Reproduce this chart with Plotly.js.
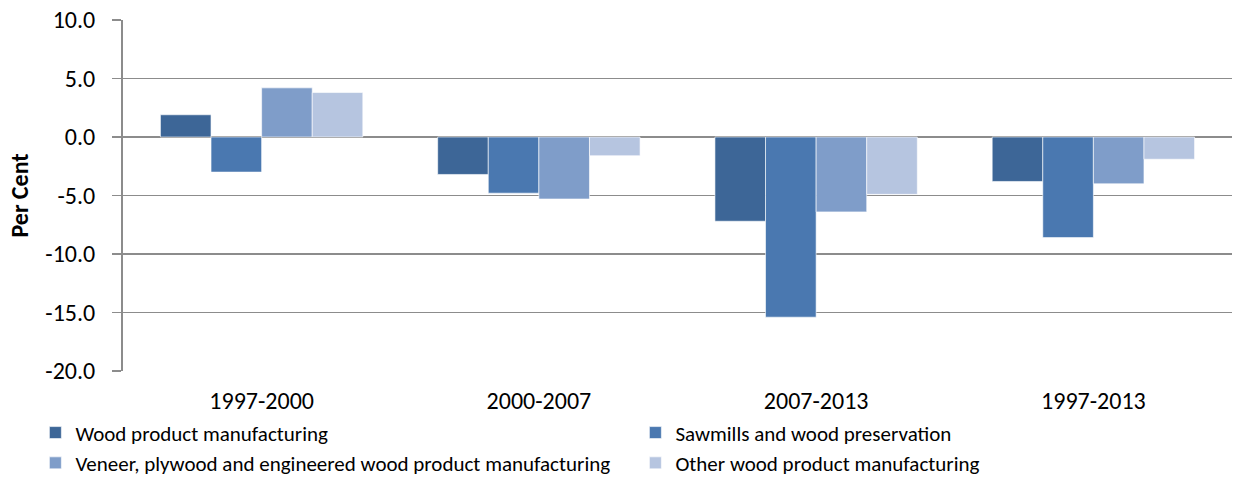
<!DOCTYPE html>
<html>
<head>
<meta charset="utf-8">
<script src="https://cdn.plot.ly/plotly-3.0.1.min.js"></script>
<style>html,body{margin:0;padding:0;background:#fff;}#chart{width:1238px;height:477px;}</style>
</head>
<body>
<div id="chart"></div>
<script>
const categories = ["1997-2000", "2000-2007", "2007-2013", "1997-2013"];
const seriesNames = [
  "Wood product manufacturing",
  "Sawmills and wood preservation",
  "Veneer, plywood and engineered wood product manufacturing",
  "Other wood product manufacturing"
];
const woodProduct = [1.9, -3.2, -7.2, -3.8];
const sawmills = [-3.0, -4.8, -15.4, -8.6];
const veneer = [4.2, -5.3, -6.4, -4.0];
const otherWood = [3.8, -1.6, -4.9, -1.9];
const yTickVals = [-20, -15, -10, -5, 0, 5, 10];
const yTickText = ["-20.0", "-15.0", "-10.0", "-5.0", "0.0", "5.0", "10.0"];
const colors = ["#3D6697", "#4A78B0", "#7F9DC9", "#B6C5E0"];

const seriesValues = [woodProduct, sawmills, veneer, otherWood];
const font = "Calibri, Carlito, Lato, 'Liberation Sans', Arial, sans-serif";

const traces = seriesValues.map((vals, i) => ({
  type: "bar",
  name: seriesNames[i],
  x: categories,
  y: vals,
  marker: {color: colors[i], line: {color: "rgba(255,255,255,0.6)", width: 1}},
  hoverinfo: "skip"
}));

const layout = {
  width: 1238,
  height: 477,
  margin: {l: 123, r: 6, t: 20, b: 106, autoexpand: false},
  paper_bgcolor: "#fff",
  plot_bgcolor: "#fff",
  barmode: "group",
  bargap: 0.27,
  bargroupgap: 0,
  font: {family: font, color: "#000"},
  showlegend: true,
  legend: {
    orientation: "h",
    x: -0.079,
    xanchor: "left",
    y: -0.118,
    yanchor: "top",
    bgcolor: "rgba(0,0,0,0)",
    entrywidth: 555,
    entrywidthmode: "pixels",
    font: {size: 21, family: font, color: "#000"},
    itemwidth: 30,
    tracegroupgap: 0
  },
  xaxis: {
    type: "category",
    showgrid: false,
    showline: false,
    zeroline: false,
    ticks: "outside",
    ticklen: 8,
    tickcolor: "rgba(0,0,0,0)",
    tickfont: {size: 24, family: font, color: "#000"},
    fixedrange: true
  },
  xaxis2: {
    overlaying: "x",
    anchor: "free",
    position: 2/3,
    type: "linear",
    range: [-0.5, 3.5],
    tick0: -0.5,
    dtick: 1,
    ticks: "outside",
    ticklen: 6,
    tickwidth: 2,
    tickcolor: "#888888",
    showticklabels: false,
    showgrid: false,
    showline: false,
    zeroline: false
  },
  yaxis: {
    range: [-20, 10],
    tickvals: yTickVals,
    ticktext: yTickText,
    showgrid: true,
    gridcolor: "#8C8C8C",
    gridwidth: 1.5,
    zeroline: true,
    zerolinecolor: "#8C8C8C",
    zerolinewidth: 2,
    showline: true,
    linecolor: "#8C8C8C",
    linewidth: 2,
    ticks: "outside",
    ticklen: 9,
    tickcolor: "#8C8C8C",
    tickwidth: 1.5,
    ticklabelstandoff: 12,
    tickfont: {size: 24, family: font, color: "#000"},
    title: {text: "<b>Per Cent</b>", font: {size: 24, family: font, color: "#000"}, standoff: 10},
    fixedrange: true
  }
};

Plotly.newPlot("chart", traces, layout, {displayModeBar: false, staticPlot: true});
</script>
</body>
</html>
